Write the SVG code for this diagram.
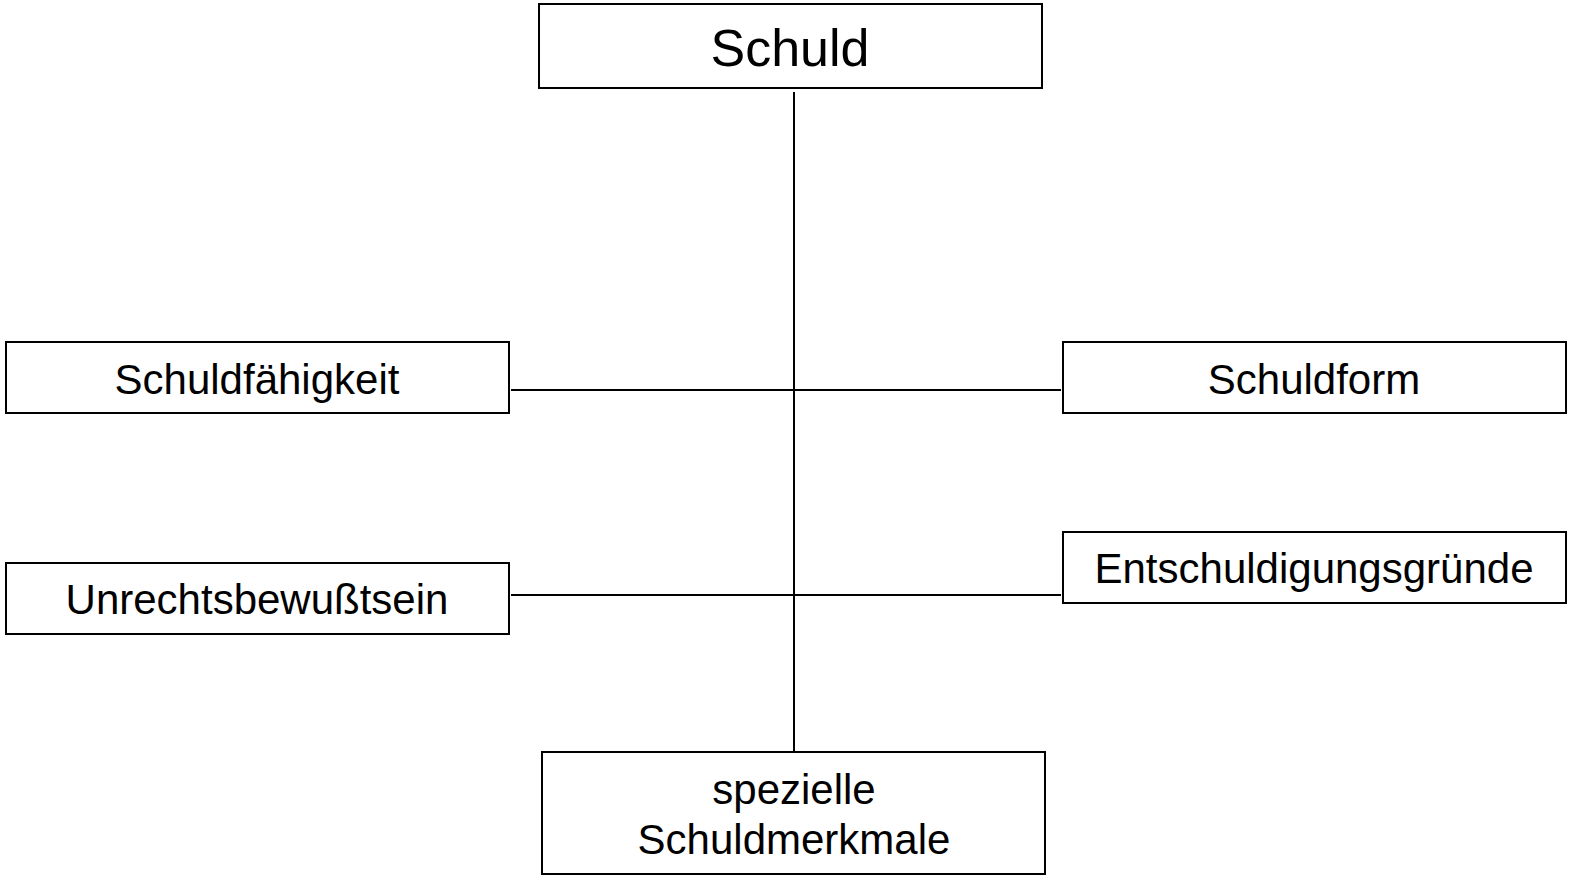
<svg xmlns="http://www.w3.org/2000/svg" width="1590" height="889" viewBox="0 0 1590 889">
<style>
.box{fill:#fff;stroke:#000;stroke-width:2}
.t{font-family:"Liberation Sans",Arial,sans-serif;font-size:42px;fill:#000;text-anchor:middle}
.c{stroke:#000;stroke-width:2;fill:none}
</style>
<rect width="1590" height="889" fill="#fff"/>
<g id="connectors">
<line class="c" x1="794" y1="92" x2="794" y2="752"/>
<line class="c" x1="511" y1="390" x2="1061" y2="390"/>
<line class="c" x1="511" y1="595" x2="1061" y2="595"/>
</g>
<g id="schuld">
<rect class="box" x="539" y="4" width="503" height="84"/>
<text class="t" x="790" y="66" style="font-size:52px">Schuld</text>
</g>
<g id="schuldfaehigkeit">
<rect class="box" x="6" y="342" width="503" height="71"/>
<text class="t" x="257" y="394">Schuldfähigkeit</text>
</g>
<g id="schuldform">
<rect class="box" x="1063" y="342" width="503" height="71"/>
<text class="t" x="1314" y="394">Schuldform</text>
</g>
<g id="unrechtsbewusstsein">
<rect class="box" x="6" y="563" width="503" height="71"/>
<text class="t" x="257" y="614">Unrechtsbewußtsein</text>
</g>
<g id="entschuldigungsgruende">
<rect class="box" x="1063" y="532" width="503" height="71"/>
<text class="t" x="1314" y="583">Entschuldigungsgründe</text>
</g>
<g id="spezielle">
<rect class="box" x="542" y="752" width="503" height="122"/>
<text class="t" x="794" y="804">spezielle</text>
<text class="t" x="794" y="854">Schuldmerkmale</text>
</g>
</svg>
